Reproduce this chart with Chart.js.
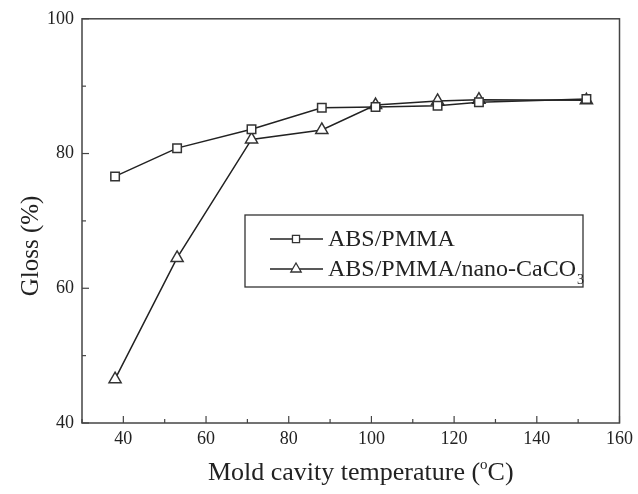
<!DOCTYPE html>
<html>
<head>
<meta charset="utf-8">
<script src="https://cdn.jsdelivr.net/npm/chart.js@4/dist/chart.umd.min.js"></script>
<style>
  html, body { margin: 0; padding: 0; background: #fff; }
  #wrap { width: 638px; height: 494px; }
</style>
</head>
<body>
<div id="wrap"><canvas id="glossChart" width="638" height="494"></canvas></div>
<script>
// data
const temps = [38, 53, 71, 88, 101, 116, 126, 152];
const absPmma = [76.6, 80.8, 83.6, 86.8, 86.9, 87.1, 87.6, 88.1];
const absPmmaCaco3 = [46.5, 64.5, 82.1, 83.5, 87.2, 87.8, 88.0, 87.9];
const xTicks = [40, 60, 80, 100, 120, 140, 160];
const yTicks = [40, 60, 80, 100];

const serif = '"Liberation Serif", "Times New Roman", serif';
const ink = '#222';

const toPoints = (xs, ys) => xs.map((x, i) => ({ x: x, y: ys[i] }));

// frame, inward ticks, axis titles and legend box
const decorations = {
    id: 'decorations',
    afterDraw(chart) {
        const ctx = chart.ctx;
        const a = chart.chartArea;
        const xs = chart.scales.x;
        const ys = chart.scales.y;
        ctx.save();
        ctx.strokeStyle = '#444';
        ctx.lineWidth = 1.5;
        ctx.strokeRect(a.left, a.top, a.right - a.left, a.bottom - a.top);

        ctx.lineWidth = 1.2;
        for (let v = 30; v <= 160; v += 10) {
            const px = xs.getPixelForValue(v);
            const len = v % 20 === 0 ? 7 : 4;
            ctx.beginPath();
            ctx.moveTo(px, a.bottom);
            ctx.lineTo(px, a.bottom - len);
            ctx.stroke();
        }
        for (let v = 40; v <= 100; v += 10) {
            const py = ys.getPixelForValue(v);
            const len = v % 20 === 0 ? 7 : 4;
            ctx.beginPath();
            ctx.moveTo(a.left, py);
            ctx.lineTo(a.left + len, py);
            ctx.stroke();
        }

        // axis titles
        ctx.fillStyle = ink;
        ctx.textBaseline = 'alphabetic';
        const big = '26px ' + serif;
        const small = '15px ' + serif;
        const t1 = 'Mold cavity temperature (';
        const t2 = 'C)';
        ctx.font = big;
        const w1 = ctx.measureText(t1).width;
        const w2 = ctx.measureText(t2).width;
        ctx.font = small;
        const wo = ctx.measureText('o').width;
        const tx = (a.left + a.right) / 2 - (w1 + wo + w2) / 2 + 10;
        const ty = 480;
        ctx.textAlign = 'left';
        ctx.font = big;
        ctx.fillText(t1, tx, ty);
        ctx.font = small;
        ctx.fillText('o', tx + w1, ty - 11);
        ctx.font = big;
        ctx.fillText(t2, tx + w1 + wo, ty);

        ctx.save();
        ctx.translate(38, (a.top + a.bottom) / 2 + 25);
        ctx.rotate(-Math.PI / 2);
        ctx.textAlign = 'center';
        ctx.font = '25px ' + serif;
        ctx.fillText('Gloss (%)', 0, 0);
        ctx.restore();

        // legend
        ctx.strokeStyle = '#333';
        ctx.lineWidth = 1.3;
        ctx.strokeRect(245, 215, 338, 72);
        const rows = [239, 269];
        chart.data.datasets.forEach((ds, i) => {
            const y = rows[i];
            ctx.strokeStyle = ink;
            ctx.lineWidth = 1.3;
            ctx.beginPath();
            ctx.moveTo(270, y);
            ctx.lineTo(323, y);
            ctx.stroke();
            ctx.fillStyle = '#fff';
            ctx.strokeStyle = '#333';
            Chart.helpers.drawPoint(ctx, {
                pointStyle: ds.pointStyle,
                radius: ds.pointRadius - 1,
                borderWidth: 1.3
            }, 296, y);
            ctx.fillStyle = ink;
            ctx.font = '24px ' + serif;
            ctx.textAlign = 'left';
            ctx.textBaseline = 'middle';
            ctx.fillText(ds.label, 328, y + 1);
            if (ds.sub) {
                const w = ctx.measureText(ds.label).width;
                ctx.font = '14px ' + serif;
                ctx.fillText(ds.sub, 328 + w + 1, y + 11);
            }
        });
        ctx.restore();
    }
};

new Chart(document.getElementById('glossChart'), {
    type: 'line',
    data: {
        datasets: [{
            label: 'ABS/PMMA',
            data: toPoints(temps, absPmma),
            borderColor: ink,
            borderWidth: 1.5,
            pointStyle: 'rect',
            pointRadius: 6,
            pointBorderWidth: 1.5,
            pointBackgroundColor: '#fff',
            pointBorderColor: '#333',
            tension: 0
        }, {
            label: 'ABS/PMMA/nano-CaCO',
            sub: '3',
            data: toPoints(temps, absPmmaCaco3),
            borderColor: ink,
            borderWidth: 1.5,
            pointStyle: 'triangle',
            pointRadius: 7,
            pointBorderWidth: 1.5,
            pointBackgroundColor: '#fff',
            pointBorderColor: '#333',
            tension: 0
        }]
    },
    options: {
        responsive: false,
        animation: false,
        layout: { padding: { top: 18, right: 16, left: 0, bottom: 0 } },
        plugins: {
            legend: { display: false },
            tooltip: { enabled: false }
        },
        scales: {
            x: {
                type: 'linear',
                min: 30,
                max: 160,
                afterBuildTicks: (s) => { s.ticks = xTicks.map(v => ({ value: v })); },
                afterFit: (s) => { s.height = 71; },
                grid: { display: false, drawTicks: false, tickLength: 0 },
                border: { display: false },
                ticks: {
                    color: ink,
                    font: { family: serif, size: 18 },
                    padding: 5
                }
            },
            y: {
                min: 40,
                max: 100,
                afterBuildTicks: (s) => { s.ticks = yTicks.map(v => ({ value: v })); },
                afterFit: (s) => { s.width = 82; },
                grid: { display: false, drawTicks: false, tickLength: 0 },
                border: { display: false },
                ticks: {
                    color: ink,
                    font: { family: serif, size: 18 },
                    padding: 8
                }
            }
        }
    },
    plugins: [decorations]
});
</script>
</body>
</html>
